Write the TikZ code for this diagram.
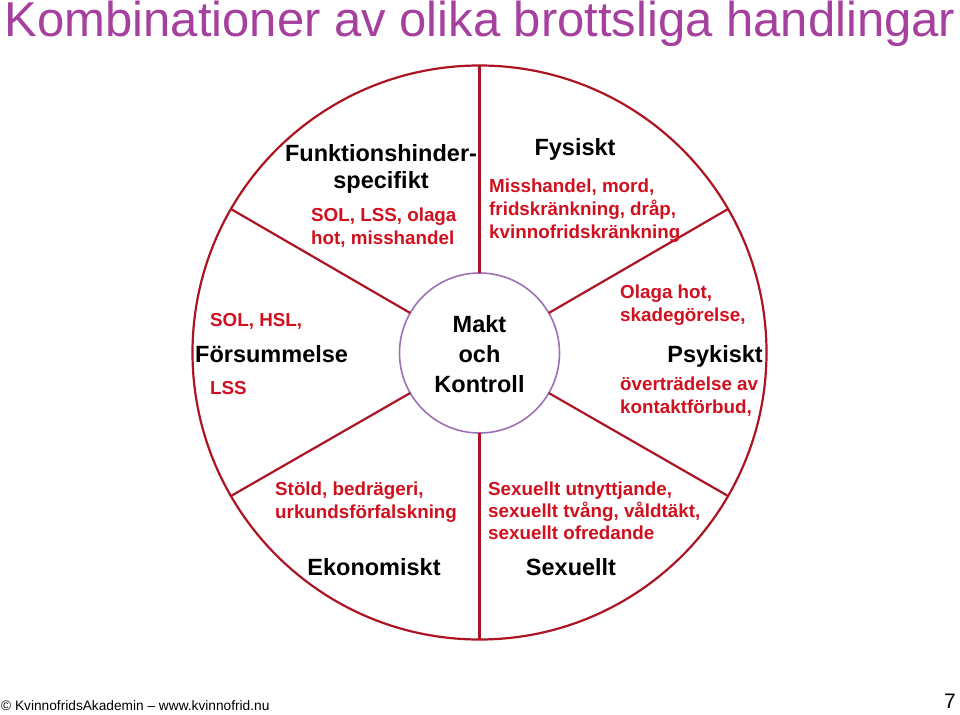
\documentclass[tikz,border=0pt]{standalone}
\usepackage{fontspec}
\setmainfont{Liberation Sans}
\definecolor{titlecol}{RGB}{166,64,158}
\definecolor{redtext}{RGB}{208,16,30}
\definecolor{rimcol}{RGB}{172,20,36}
\definecolor{corecol}{RGB}{158,112,182}
\begin{document}
\begin{tikzpicture}[x=1pt,y=-1pt,
  head/.style={font=\bfseries\fontsize{23.5}{28}\selectfont, text=black, inner sep=0, align=center},
  redtxt/.style={font=\bfseries\fontsize{18.8}{23}\selectfont, text=redtext, inner sep=0, align=left},
  spoke/.style={draw=rimcol, line width=2.2pt}]
\useasboundingbox (0,0) rectangle (960,714);
\fill[white] (0,0) rectangle (960,714);
% title
\node[anchor=base, font=\fontsize{49}{52}\selectfont, text=titlecol, inner sep=0] (title) at (480,37) {Kombinationer av olika brottsliga handlingar};
% wheel
\node[circle, draw=rimcol, line width=2.2pt, minimum size=574pt, inner sep=0, outer sep=0] (rim) at (479.5,352.5) {};
\node[circle, draw=corecol, line width=1.6pt, minimum size=160pt, inner sep=0, outer sep=0] (core) at (479.5,353) {};
\node[head, font=\bfseries\fontsize{23.5}{30}\selectfont, anchor=base] (coretext) at (479.5,392) {Makt\\och\\Kontroll};
\foreach \a in {30,90,150,210,270,330}
  \draw[spoke] (core.\a) -- (rim.\a);
% sector texts (anchor base = baseline of last line)
\node[head, anchor=base] (funk) at (381,189) {Funktionshinder-\\specifikt};
\node[redtxt, anchor=base west] (funkred) at (311,244) {SOL, LSS, olaga\\hot, misshandel};
\node[head, anchor=base] (fys) at (575,156) {Fysiskt};
\node[redtxt, anchor=base west] (fysred) at (489,238) {Misshandel, mord,\\fridskränkning, dråp,\\kvinnofridskränkning};
\node[redtxt, anchor=base west] (forsred1) at (210,326) {SOL, HSL,};
\node[head, anchor=base west] (fors) at (195,362) {Försummelse};
\node[redtxt, anchor=base west] (forsred2) at (210,394) {LSS};
\node[redtxt, anchor=base west] (psykred1) at (620,321) {Olaga hot,\\skadegörelse,};
\node[head, anchor=base east] (psyk) at (763,362) {Psykiskt};
\node[redtxt, anchor=base west] (psykred2) at (620,413) {överträdelse av\\kontaktförbud,};
\node[redtxt, anchor=base west] (ekored) at (275,518) {Stöld, bedrägeri,\\urkundsförfalskning};
\node[head, anchor=base] (eko) at (374,575) {Ekonomiskt};
\node[redtxt, anchor=base west, font=\bfseries\fontsize{18.8}{22}\selectfont] (sexred) at (488,539) {Sexuellt utnyttjande,\\sexuellt tvång, våldtäkt,\\sexuellt ofredande};
\node[head, anchor=base] (sex) at (571,575) {Sexuellt};
% footer
\node[anchor=base west, font=\fontsize{13.7}{15}\selectfont, inner sep=0] (footer) at (1,710) {© KvinnofridsAkademin – www.kvinnofrid.nu};
\node[anchor=base east, font=\fontsize{21}{24}\selectfont, inner sep=0] (page) at (956,708) {7};
\end{tikzpicture}
\end{document}
